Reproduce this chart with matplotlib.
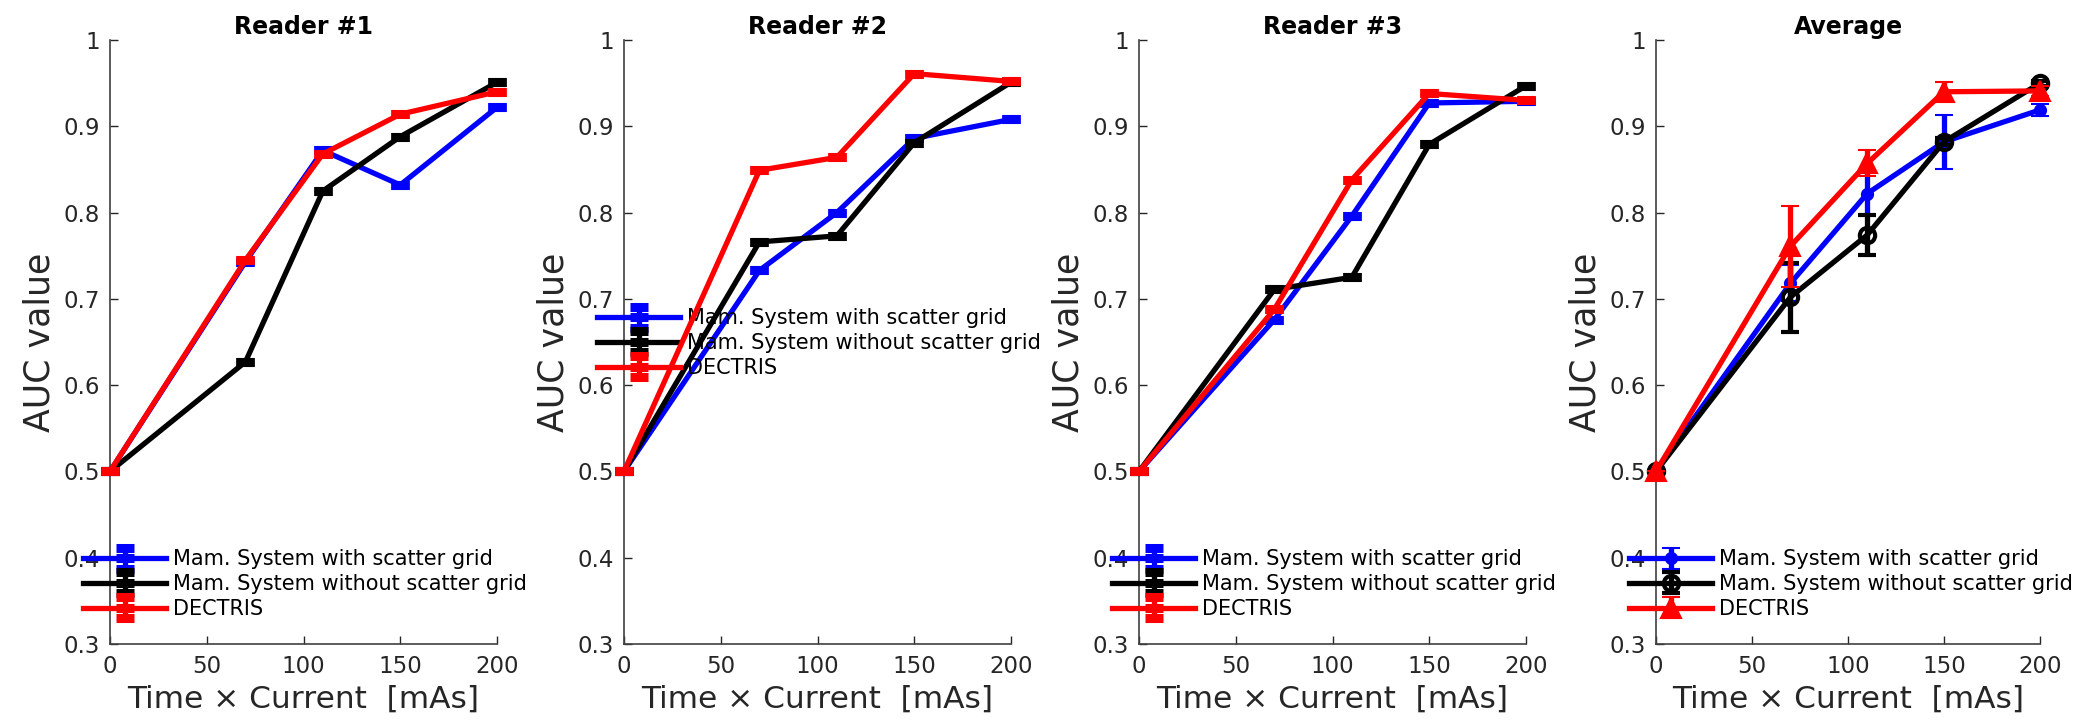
import matplotlib
matplotlib.use("Agg")
import matplotlib.pyplot as plt

plt.rcParams['font.family'] = ['DejaVu Sans']

# exposure settings (time x current, mAs)
mas = [0, 70, 110, 150, 200]

series_names = ["Mam. System with scatter grid",
                "Mam. System without scatter grid",
                "DECTRIS"]
panel_titles = ["Reader #1", "Reader #2", "Reader #3", "Average"]

# AUC per reader
r1_grid = [0.5, 0.743, 0.872, 0.832, 0.922]
r1_nogrid = [0.5, 0.627, 0.825, 0.888, 0.951]
r1_dectris = [0.5, 0.745, 0.868, 0.914, 0.940]

r2_grid = [0.5, 0.733, 0.800, 0.886, 0.908]
r2_nogrid = [0.5, 0.766, 0.773, 0.881, 0.951]
r2_dectris = [0.5, 0.849, 0.864, 0.961, 0.952]

r3_grid = [0.5, 0.676, 0.796, 0.927, 0.929]
r3_nogrid = [0.5, 0.711, 0.725, 0.879, 0.947]
r3_dectris = [0.5, 0.688, 0.838, 0.938, 0.930]

# reader average with standard error
avg_grid = [0.5, 0.718, 0.822, 0.882, 0.919]
avg_grid_err = [0.0, 0.021, 0.025, 0.031, 0.007]
avg_nogrid = [0.5, 0.702, 0.774, 0.882, 0.950]
avg_nogrid_err = [0.0, 0.040, 0.023, 0.004, 0.003]
avg_dectris = [0.5, 0.761, 0.857, 0.940, 0.941]
avg_dectris_err = [0.0, 0.047, 0.015, 0.011, 0.006]

x_ticks = [0, 50, 100, 150, 200]
y_ticks = [0.3, 0.4, 0.5, 0.6, 0.7, 0.8, 0.9, 1.0]
y_tick_labels = ["0.3", "0.4", "0.5", "0.6", "0.7", "0.8", "0.9", "1"]

readers = [
    (r1_grid, r1_nogrid, r1_dectris),
    (r2_grid, r2_nogrid, r2_dectris),
    (r3_grid, r3_nogrid, r3_dectris),
]

colors = ["#0000ff", "#000000", "#ff0000"]
axis_color = "#262626"

W, H = 2080, 724
fig = plt.figure(figsize=(W / 100, H / 100), dpi=100)

panel_left = [110, 624, 1139, 1656]
panel_width = [387, 387, 387, 384]
ax_bottom, ax_height = 80, 604
legend_y = [0.099, 0.498, 0.099, 0.099]

LW = 3.8
CAP = 6.8  # half-width of the error bar caps, points


def style_axes(ax, title):
    ax.set_xlim(0, 200)
    ax.set_ylim(0.3, 1.0)
    ax.set_xticks(x_ticks)
    ax.set_yticks(y_ticks)
    ax.set_yticklabels(y_tick_labels)
    for side in ("top", "right"):
        ax.spines[side].set_visible(False)
    for side in ("left", "bottom"):
        ax.spines[side].set_color("#404040")
        ax.spines[side].set_linewidth(1.2)
    ax.tick_params(direction="in", length=6, width=1, colors=axis_color,
                   labelsize=16.5)
    ax.tick_params(axis="y", pad=7)
    ax.tick_params(axis="x", pad=8)
    ax.set_title(title, fontsize=17, fontweight="bold", pad=4)
    ax.set_ylabel("AUC value", fontsize=25, color=axis_color, labelpad=5)
    ax.set_xlabel("Time \u00d7 Current  [mAs]", fontsize=22.5,
                  color=axis_color, labelpad=5)


def unclip(container):
    for art in container.get_children():
        art.set_clip_on(False)


for i in range(4):
    ax = fig.add_axes([panel_left[i] / W, ax_bottom / H,
                       panel_width[i] / W, ax_height / H])
    handles = []
    if i < 3:
        for k, (vals, c) in enumerate(zip(readers[i], colors)):
            eb = ax.errorbar(mas, vals, yerr=[0.0] * len(vals), color=c,
                             lw=LW, elinewidth=LW, capsize=CAP, capthick=3.5,
                             marker="_", markersize=2 * CAP, mew=6.5,
                             zorder=3 + k, label=series_names[k])
            unclip(eb)
            handles.append(eb)
    else:
        avg_sets = [(avg_grid, avg_grid_err, "o", 8, colors[0]),
                    (avg_nogrid, avg_nogrid_err, "o", 11, "none"),
                    (avg_dectris, avg_dectris_err, "^", 14, colors[2])]
        for k, (vals, err, mk, ms, face) in enumerate(avg_sets):
            eb = ax.errorbar(mas, vals, yerr=err, color=colors[k],
                             lw=LW, elinewidth=LW, capsize=CAP, capthick=3.5,
                             marker=mk, markersize=ms, mfc=face,
                             mec=colors[k], mew=3 if k == 1 else 1.5,
                             zorder=3 + k, label=series_names[k])
            unclip(eb)
            handles.append(eb)
    style_axes(ax, panel_titles[i])
    ax.legend(handles=handles, loc="center left",
              bbox_to_anchor=(-27 / panel_width[i], legend_y[i]),
              frameon=False, fontsize=15, borderpad=0, borderaxespad=0,
              handlelength=4.0, handletextpad=0.3, labelspacing=0.23)

fig.savefig("out.png", dpi=100)
